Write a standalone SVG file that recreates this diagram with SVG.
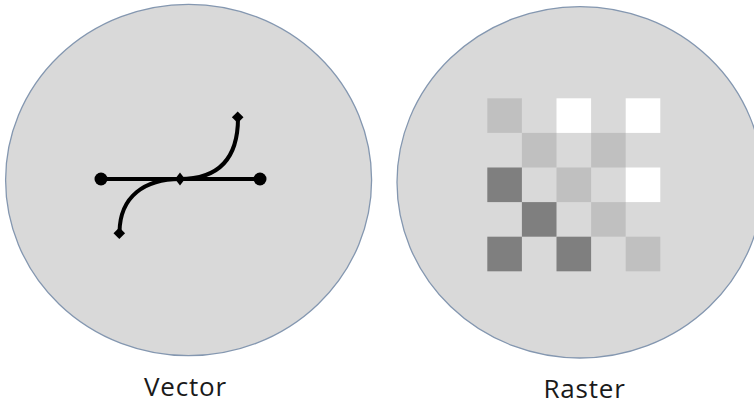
<svg xmlns="http://www.w3.org/2000/svg" width="754" height="408" viewBox="0 0 754 408">
<style>
.disc{fill:#d9d9d9;stroke:#8497b0;stroke-width:1.3}
.lbl{font-family:"Open Sans","Noto Sans",sans-serif;font-size:26px;letter-spacing:0.8px;fill:#1a1a1a;text-anchor:middle}
.ln{fill:none;stroke:#000;stroke-width:4}
.g1{fill:#c0c0c0}.g2{fill:#ffffff}.g3{fill:#7f7f7f}
</style>
<rect width="754" height="408" fill="#ffffff"/>
<g id="vector">
<ellipse class="disc" cx="188.6" cy="180" rx="183" ry="175.7"/>
<line class="ln" x1="101" y1="179" x2="260" y2="179"/>
<path class="ln" d="M119.5,232 C120,196 145,179 180,179 C215,179 238,162 238,118"/>
<circle cx="101" cy="179" r="6.5"/>
<circle cx="260" cy="179" r="6.5"/>
<path d="M180,172.5 L185,179 L180,185.5 L175,179 Z"/>
<path d="M237.7,111.5 L243.5,117.3 L237.7,123.1 L231.9,117.3 Z"/>
<path d="M119.3,227.5 L125.1,233.3 L119.3,239.1 L113.5,233.3 Z"/>
<text class="lbl" x="185.5" y="396">Vector</text>
</g>
<g id="raster">
<ellipse class="disc" cx="580" cy="182.3" rx="183" ry="175.7"/>
<rect class="g1" x="487.3" y="98.3" width="34.6" height="34.6"/>
<rect class="g2" x="556.5" y="98.3" width="34.6" height="34.6"/>
<rect class="g2" x="625.7" y="98.3" width="34.6" height="34.6"/>
<rect class="g1" x="521.9" y="132.9" width="34.6" height="34.6"/>
<rect class="g1" x="591.1" y="132.9" width="34.6" height="34.6"/>
<rect class="g3" x="487.3" y="167.5" width="34.6" height="34.6"/>
<rect class="g1" x="556.5" y="167.5" width="34.6" height="34.6"/>
<rect class="g2" x="625.7" y="167.5" width="34.6" height="34.6"/>
<rect class="g3" x="521.9" y="202.1" width="34.6" height="34.6"/>
<rect class="g1" x="591.1" y="202.1" width="34.6" height="34.6"/>
<rect class="g3" x="487.3" y="236.7" width="34.6" height="34.6"/>
<rect class="g3" x="556.5" y="236.7" width="34.6" height="34.6"/>
<rect class="g1" x="625.7" y="236.7" width="34.6" height="34.6"/>
<text class="lbl" x="584.5" y="398">Raster</text>
</g>
</svg>
